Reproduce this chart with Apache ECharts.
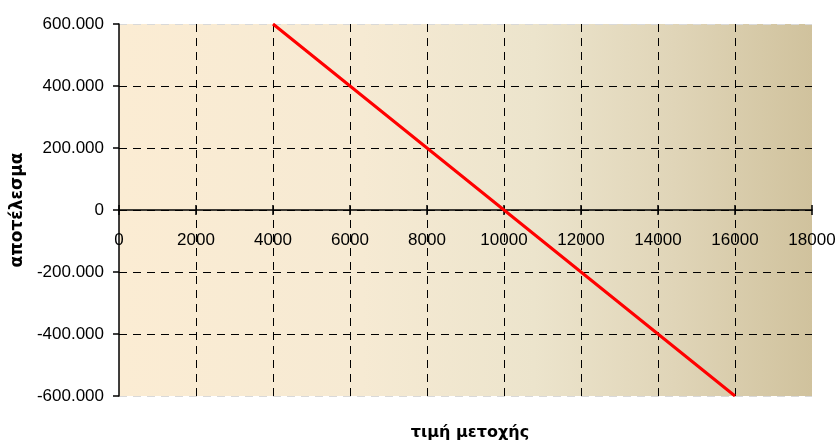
<!DOCTYPE html>
<html>
<head>
<meta charset="utf-8">
<script src="https://cdn.jsdelivr.net/npm/echarts@6/dist/echarts.min.js"></script>
<style>
  html, body { margin: 0; padding: 0; background: #ffffff; }
  #chart { width: 840px; height: 444px; }
</style>
</head>
<body>
<div id="chart"></div>
<script>
// Payoff of the position versus share price
const prices = [4000, 6000, 8000, 10000, 12000, 14000, 16000];
const results = [600000, 400000, 200000, 0, -200000, -400000, -600000];

const xTitle = 'τιμή μετοχής';
const yTitle = 'αποτέλεσμα';

const FONT = '"Liberation Sans", Arial, sans-serif';
const TITLE_FONT = '"DejaVu Sans", Verdana, sans-serif';

// Greek-style thousands separator: 600000 -> 600.000
function fmtThousands(v) {
  if (v === 0) return '0';
  const sign = v < 0 ? '-' : '';
  const s = String(Math.abs(v));
  return sign + s.replace(/\B(?=(\d{3})+(?!\d))/g, '.');
}

const GRID_TOP = 24, GRID_BOTTOM = 48, H = 444;
// shift the horizontal axis up from the bottom edge to the zero level
const plotH = H - GRID_TOP - GRID_BOTTOM;
const zeroOffset = -plotH / 2;

const chart = echarts.init(document.getElementById('chart'), null, { renderer: 'canvas' });

const yGridColors = ['#d9d9d9', '#000', '#000', '#000', '#000', '#000', '#d9d9d9'];
const xGridColors = ['rgba(0,0,0,0)', '#000', '#000', '#000', '#000', '#000', '#000', '#000', '#000', 'rgba(0,0,0,0)'];

chart.setOption({
  animation: false,
  backgroundColor: '#ffffff',
  title: {
    text: xTitle,
    left: 465,
    top: 420,
    textAlign: 'center',
    textStyle: { fontFamily: TITLE_FONT, fontSize: 16, fontWeight: 'bold', color: '#000' }
  },
  grid: {
    left: 119, right: 28, top: GRID_TOP, bottom: GRID_BOTTOM,
    show: true,
    borderWidth: 0,
    backgroundColor: new echarts.graphic.LinearGradient(0, 0, 1, 0, [
      { offset: 0, color: '#fbecd3' },
      { offset: 0.35, color: '#f6ead3' },
      { offset: 0.6, color: '#ece4cc' },
      { offset: 0.8, color: '#e0d5b8' },
      { offset: 1, color: '#d0c29d' }
    ])
  },
  xAxis: [{
    type: 'value',
    min: 0, max: 18000, interval: 2000,
    offset: zeroOffset,
    axisLine: { show: true, onZero: false, lineStyle: { color: '#000', width: 1.5 } },
    axisTick: { show: true, inside: false, length: 5, lineStyle: { color: '#000', width: 1.5 } },
    axisLabel: { show: true, color: '#000', fontFamily: FONT, fontSize: 17, margin: 22,
      formatter: v => String(v) },
    splitLine: { show: true, lineStyle: { color: xGridColors, width: 1, type: [8, 6] } },
    z: 3
  }, {
    // upper half of the crossing tick marks
    type: 'value',
    position: 'bottom',
    min: 0, max: 18000, interval: 2000,
    offset: zeroOffset,
    axisLine: { show: false, onZero: false },
    axisTick: { show: true, inside: true, length: 5, lineStyle: { color: '#000', width: 1.5 } },
    axisLabel: { show: false },
    splitLine: { show: false },
    z: 3
  }],
  yAxis: {
    type: 'value',
    min: -600000, max: 600000, interval: 200000,
    name: yTitle,
    nameLocation: 'middle',
    nameGap: 88,
    nameRotate: 90,
    nameTextStyle: { fontFamily: TITLE_FONT, fontSize: 17, fontWeight: 'bold', color: '#000' },
    axisLine: { show: true, lineStyle: { color: '#000', width: 1.5 } },
    axisTick: { show: true, length: 6, lineStyle: { color: '#000', width: 1.5 } },
    axisLabel: { color: '#000', fontFamily: FONT, fontSize: 17, margin: 15, formatter: fmtThousands },
    splitLine: { show: true, lineStyle: { color: yGridColors, width: 1, type: [8, 6] } }
  },
  series: [{
    type: 'line',
    xAxisIndex: 0,
    data: prices.map((p, i) => [p, results[i]]),
    showSymbol: false,
    symbol: 'none',
    lineStyle: { color: '#ff0000', width: 3 },
    z: 5
  }]
});
</script>
</body>
</html>
